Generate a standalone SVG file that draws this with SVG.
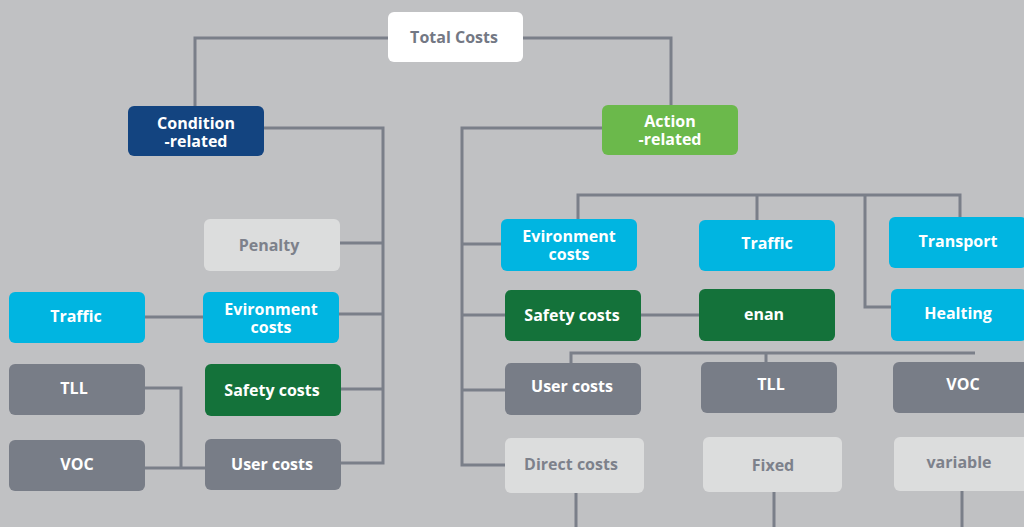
<svg xmlns="http://www.w3.org/2000/svg" width="1024" height="527" viewBox="0 0 1024 527">
<style>
.bg{fill:#c0c1c3}
.ln{fill:none;stroke:#7a7f89;stroke-width:3}
g rect{rx:6px;ry:6px}
text{font-family:"Open Sans","Noto Sans","Liberation Sans",sans-serif;font-weight:700;font-size:16px;text-anchor:middle;dominant-baseline:central}
.white rect{fill:#ffffff}.white text{fill:#737884}
.navy rect{fill:#134480}.navy text{fill:#ffffff}
.lgreen rect{fill:#6bb94b}.lgreen text{fill:#ffffff}
.cyan rect{fill:#00b5e1}.cyan text{fill:#ffffff}
.dgreen rect{fill:#14723a}.dgreen text{fill:#ffffff}
.gray rect{fill:#787d87}.gray text{fill:#ffffff}
.light rect{fill:#dcdddd}.light text{fill:#7d818b}
</style>
<rect class="bg" x="0" y="0" width="1024" height="527"/>
<g id="connectors">
<path class="ln" d="M388 38H195V106"/>
<path class="ln" d="M523 38H671V105"/>
<path class="ln" d="M264 128H383V463H341"/>
<path class="ln" d="M340 243H383M339 314H383M341 389H383"/>
<path class="ln" d="M145 317H203"/>
<path class="ln" d="M145 388H181V468M145 468H205"/>
<path class="ln" d="M602 128H462V465H505"/>
<path class="ln" d="M462 244H501M462 315H505M462 390H505"/>
<path class="ln" d="M641 315H699"/>
<path class="ln" d="M578 219V195H960V217M757 195V220M865 195V307H891"/>
<path class="ln" d="M571 363V353H975M766 353V362"/>
<path class="ln" d="M576 493V527M774 492V527M962 491V527"/>
</g>
<g id="total-costs" class="white"><rect x="388" y="12" width="135" height="50"/><text x="454" y="37">Total Costs</text></g>
<g id="condition-related" class="navy"><rect x="128" y="106" width="136" height="50"/><text x="196" y="123">Condition<tspan x="196" dy="18">-related</tspan></text></g>
<g id="action-related" class="lgreen"><rect x="602" y="105" width="136" height="50"/><text x="670" y="121">Action<tspan x="670" dy="18">-related</tspan></text></g>
<g id="penalty" class="light"><rect x="204" y="219" width="136" height="52"/><text x="269" y="245">Penalty</text></g>
<g id="traffic-left" class="cyan"><rect x="9" y="292" width="136" height="51"/><text x="76" y="316">Traffic</text></g>
<g id="environment-left" class="cyan"><rect x="203" y="292" width="136" height="51"/><text x="271" y="309">Evironment<tspan x="271" dy="18">costs</tspan></text></g>
<g id="tll-left" class="gray"><rect x="9" y="364" width="136" height="51"/><text x="74" y="388">TLL</text></g>
<g id="safety-left" class="dgreen"><rect x="205" y="364" width="136" height="52"/><text x="272" y="390">Safety costs</text></g>
<g id="voc-left" class="gray"><rect x="9" y="440" width="136" height="51"/><text x="77" y="464">VOC</text></g>
<g id="user-left" class="gray"><rect x="205" y="439" width="136" height="51"/><text x="272" y="464">User costs</text></g>
<g id="environment-right" class="cyan"><rect x="501" y="219" width="136" height="52"/><text x="569" y="236">Evironment<tspan x="569" dy="18">costs</tspan></text></g>
<g id="traffic-right" class="cyan"><rect x="699" y="220" width="136" height="51"/><text x="767" y="243">Traffic</text></g>
<g id="transport" class="cyan"><rect x="889" y="217" width="138" height="51"/><text x="958" y="241">Transport</text></g>
<g id="safety-right" class="dgreen"><rect x="505" y="290" width="136" height="51"/><text x="572" y="315">Safety costs</text></g>
<g id="enan" class="dgreen"><rect x="699" y="289" width="136" height="52"/><text x="764" y="314">enan</text></g>
<g id="healting" class="cyan"><rect x="891" y="289" width="136" height="52"/><text x="958" y="313">Healting</text></g>
<g id="user-right" class="gray"><rect x="505" y="363" width="136" height="52"/><text x="572" y="386">User costs</text></g>
<g id="tll-right" class="gray"><rect x="701" y="362" width="136" height="51"/><text x="771" y="384">TLL</text></g>
<g id="voc-right" class="gray"><rect x="893" y="362" width="136" height="51"/><text x="963" y="384">VOC</text></g>
<g id="direct-costs" class="light"><rect x="505" y="438" width="139" height="55"/><text x="571" y="464">Direct costs</text></g>
<g id="fixed" class="light"><rect x="703" y="437" width="139" height="55"/><text x="773" y="465">Fixed</text></g>
<g id="variable" class="light"><rect x="894" y="437" width="139" height="54"/><text x="959" y="462">variable</text></g>
</svg>
